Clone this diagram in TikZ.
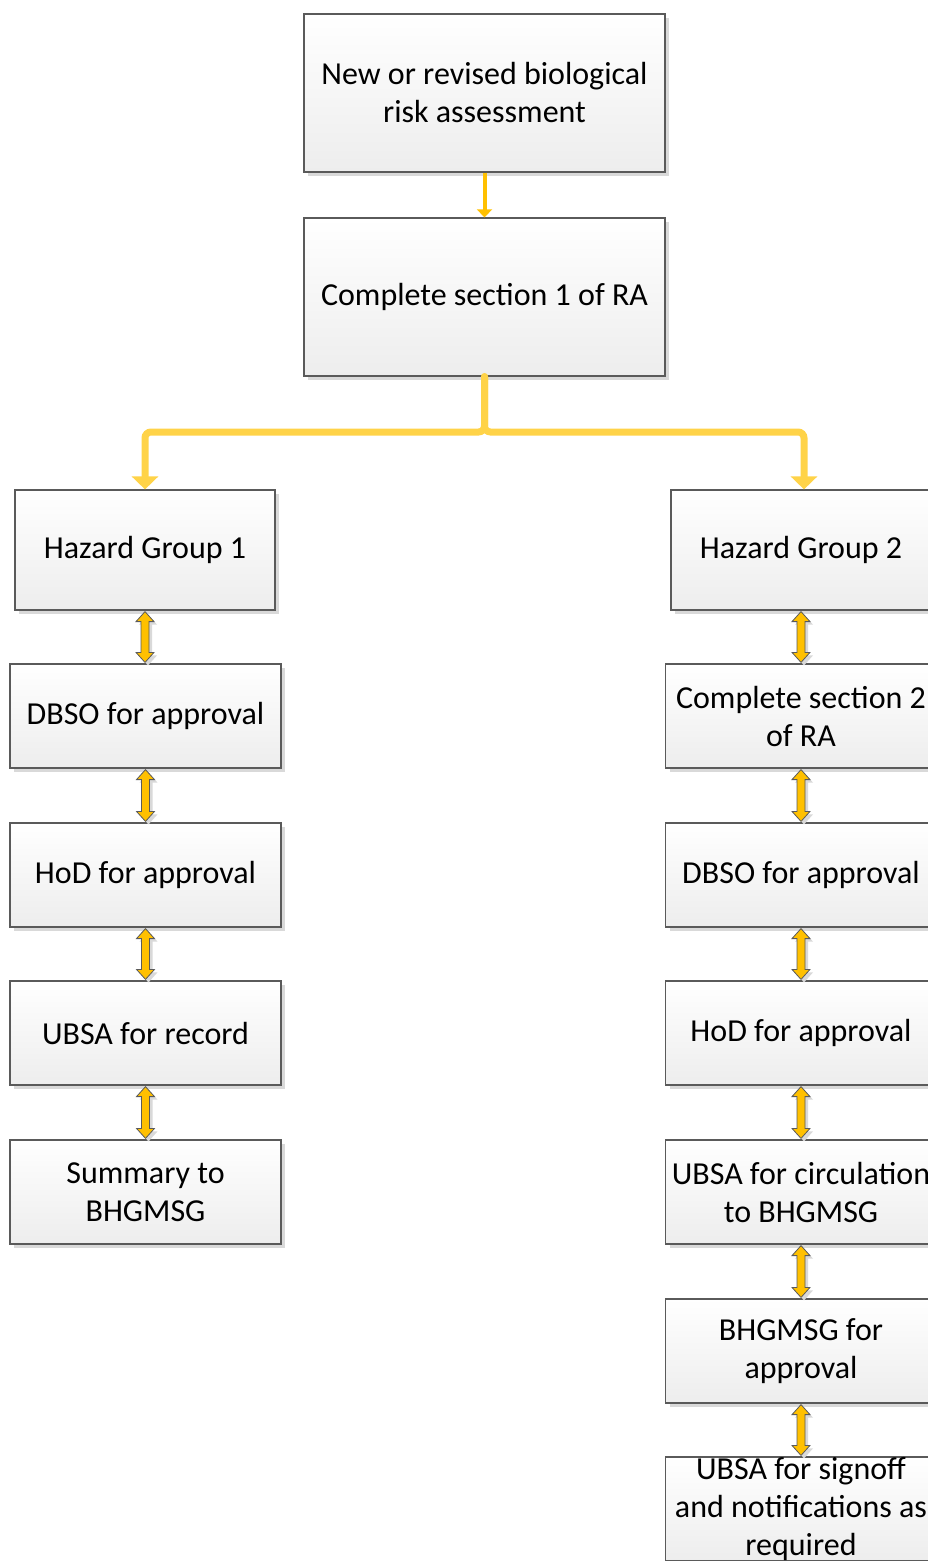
\documentclass[tikz,border=0pt]{standalone}
\usepackage{fontspec}
\setmainfont{Carlito}
\usetikzlibrary{arrows.meta,shadows,calc}
\definecolor{boxline}{HTML}{5A5A5A}
\definecolor{boxtop}{HTML}{FFFFFF}
\definecolor{boxbot}{HTML}{EDEDED}
\definecolor{gold}{HTML}{FFC000}
\definecolor{lightgold}{HTML}{FFD348}
\definecolor{shade}{HTML}{D9D9D9}
\tikzset{
  box/.style={draw=boxline, line width=1.2pt, top color=boxtop, bottom color=boxbot,
    minimum width=271pt, minimum height=104pt, inner sep=2pt, align=center,
    font=\fontsize{32}{38}\selectfont,
    drop shadow={shadow xshift=4pt, shadow yshift=-4pt, fill=shade, opacity=1}},
  bigbox/.style={box, minimum width=361pt, minimum height=158pt},
  hgbox/.style={box, minimum width=260pt, minimum height=120pt},
  txt/.style={align=center, font=\fontsize{32}{38}\selectfont, inner sep=0pt},
  dblarr/.style={draw=boxline, line width=0.8pt, fill=gold,
    drop shadow={shadow xshift=3pt, shadow yshift=-3pt, fill=shade, opacity=1}},
  mainarr/.style={draw=gold, line width=4pt, -{Triangle[width=15pt,length=8pt]}},
  brarr/.style={draw=lightgold, line width=7pt, rounded corners=6pt, line cap=round,
    -{Triangle[width=26pt,length=13pt]}},
}
\newcommand\dblconn[2]{%
  \path[dblarr] let \p1=(#1.south), \p2=(#2.north) in
    (\x1,\y1-1pt) -- (\x1+9pt,\y1-11pt) -- (\x1+4pt,\y1-11pt) -- (\x1+4pt,\y2+11pt)
    -- (\x1+9pt,\y2+11pt) -- (\x1,\y2+1pt) -- (\x1-9pt,\y2+11pt) -- (\x1-4pt,\y2+11pt)
    -- (\x1-4pt,\y1-11pt) -- (\x1-9pt,\y1-11pt) -- cycle;}
\begin{document}
\begin{tikzpicture}[x=1pt,y=-1pt]
\useasboundingbox (0,0) rectangle (928,1561);
\node[bigbox] (a) at (484.5,93) {New or revised biological\\risk assessment};
\node[bigbox] (b) at (484.5,297) {Complete section 1 of RA};
\node[hgbox] (l1) at (145,550) {Hazard Group 1};
\node[box] (l2) at (145.5,716) {DBSO for approval};
\node[box] (l3) at (145.5,875) {HoD for approval};
\node[box] (l4) at (145.5,1033) {UBSA for record};
\node[box] (l5) at (145.5,1192) {Summary to\\BHGMSG};
\node[hgbox] (r1) at (801,550) {Hazard Group 2};
\node[box] (r2) at (801,716) {Complete section 2\\of RA};
\node[box] (r3) at (801,875) {DBSO for approval};
\node[box] (r4) at (801,1033) {HoD for approval};
\node[box] (r5) at (801,1192) {UBSA for circulation\\to BHGMSG};
\node[box] (r6) at (801,1351) {BHGMSG for\\approval};
\node[box] (r7) at (801,1509) {};
\node[txt] (r7t) at (801,1509) {UBSA for signoff\\and notifications as\\required};
\coordinate (j) at (484.5,432);
\draw[mainarr] (a.south) -- (b.north);
\draw[brarr] (b.south) -- (j) -| (l1.north);
\draw[brarr] (b.south) -- (j) -| ([xshift=3pt]r1.north);
\dblconn{l1}{l2}
\dblconn{l2}{l3}
\dblconn{l3}{l4}
\dblconn{l4}{l5}
\dblconn{r1}{r2}
\dblconn{r2}{r3}
\dblconn{r3}{r4}
\dblconn{r4}{r5}
\dblconn{r5}{r6}
\dblconn{r6}{r7}
\end{tikzpicture}
\end{document}
